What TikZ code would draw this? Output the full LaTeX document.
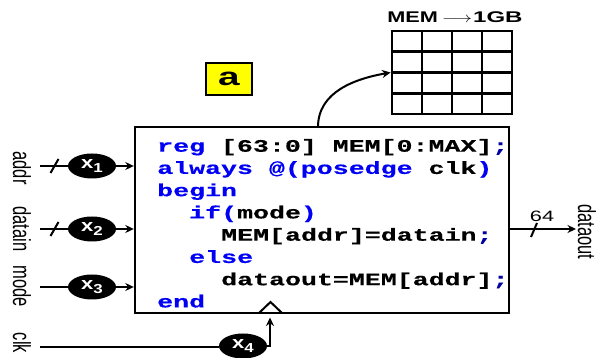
\documentclass[tikz,border=0pt]{standalone}
\usepackage{fontspec}
\setmainfont{Liberation Sans}
\newfontfamily\codefont[FakeStretch=1.52,FakeBold=0.4]{Liberation Mono}
\usetikzlibrary{arrows.meta,shapes.geometric}

\definecolor{kw}{RGB}{0,0,245}
\definecolor{punct}{RGB}{0,0,160}
\definecolor{tagyellow}{RGB}{255,255,0}

\newcommand{\kw}[1]{\textcolor{kw}{#1}}
\newcommand{\pn}[1]{\textcolor{punct}{#1}}
% horizontally widened text
\newcommand{\wide}[2][1.35]{\scalebox{#1}[1]{#2}}
% glyphs thickened across the reading direction (for rotated labels)
\newcommand{\tall}[1]{\scalebox{1}[1.5]{#1}}
\newcommand{\xsub}[1]{\wide[1.3]{x\raisebox{-3.5pt}{\fontsize{13}{13}\selectfont #1}}}

\tikzset{
  wire/.style={line width=2pt},
  arr/.style={line width=2pt, -{Stealth[length=8.5pt,width=8pt]}},
  modbox/.style={draw, line width=2.4pt, rectangle, minimum width=374pt, minimum height=186pt, inner sep=0pt},
  codeline/.style={anchor=base west, inner sep=0pt, font=\codefont\bfseries\fontsize{17.5}{17.5}\selectfont},
  xnode/.style={ellipse, fill=black, minimum width=48pt, minimum height=25pt, inner sep=0pt, text=white,
    font=\bfseries\fontsize{17}{17}\selectfont},
  sig/.style={rotate=-90, inner sep=0pt, font=\fontsize{16.5}{16.5}\selectfont},
  cell/.style={line width=2.8pt},
  tagbox/.style={draw, line width=2pt, fill=tagyellow, minimum width=46pt, minimum height=32pt, inner sep=0pt},
}

\begin{document}
\begin{tikzpicture}[x=1pt,y=-1pt]
  \useasboundingbox (0,0) rectangle (598,358);

  % the always-block
  \node[modbox] (box) at (322,220) {};
  \node[codeline] (l1) at (157,151.7) {\kw{reg} [63:0] MEM[0:MAX]\pn{;}};
  \node[codeline] (l2) at (157,173.9) {\kw{always @(posedge} clk\kw{)}};
  \node[codeline] (l3) at (157,196.2) {\kw{begin}};
  \node[codeline] (l4) at (189,218.4) {\kw{if(}mode\kw{)}};
  \node[codeline] (l5) at (221,240.7) {MEM[addr]=datain\pn{;}};
  \node[codeline] (l6) at (189,262.9) {\kw{else}};
  \node[codeline] (l7) at (221,285.2) {dataout=MEM[addr]\pn{;}};
  \node[codeline] (l8) at (157,307.4) {\kw{end}};

  % clock input marker
  \coordinate (ckl) at (259,313);
  \coordinate (ckt) at (270.5,302);
  \coordinate (ckr) at (282,313);
  \draw[wire] (ckl) -- (ckt) -- (ckr);

  % input buffers
  \node[xnode] (x1) at (92,166) {\xsub{1}};
  \node[xnode] (x2) at (92,229) {\xsub{2}};
  \node[xnode] (x3) at (92,287) {\xsub{3}};
  \node[xnode] (x4) at (243,346) {\xsub{4}};

  \coordinate (in1) at (40,166);
  \coordinate (in2) at (40,229);
  \coordinate (in3) at (40,287);
  \coordinate (clkin) at (40,347.5);
  \coordinate (clkup) at (270,317.5);

  \draw[wire] (in1) -- (x1);
  \draw[wire] (in2) -- (x2);
  \draw[wire] (in3) -- (x3);
  \draw[wire] (clkin) -- (clkin -| x4.west);

  \draw[arr] (x1) -- (x1 -| box.west);
  \draw[arr] (x2) -- (x2 -| box.west);
  \draw[arr] (x3) -- (x3 -| box.west);
  \draw[arr] (x4.east) -| (clkup);

  % bus width ticks
  \draw[wire] (50.5,173) -- (58.5,159);
  \draw[wire] (50.5,236) -- (58.5,222);

  % signal names
  \node[sig] (laddr) at (22,168) {\tall{addr}};
  \node[sig] (ldatain) at (22,229) {\tall{datain}};
  \node[sig] (lmode) at (22,286) {\tall{mode}};
  \node[sig] (lclk) at (22,343) {\tall{clk}};

  % output
  \coordinate (out) at (576,229);
  \draw[arr] (box.east |- out) -- (out);
  \draw[wire] (531,237) -- (537,223);
  \node[inner sep=0pt, font=\fontsize{15}{15}\selectfont] (w64) at (542,216) {\wide[1.45]{64}};
  \node[sig] (ldataout) at (587,232) {\tall{dataout}};

  % memory array
  \node[draw, line width=2.8pt, minimum width=120pt, minimum height=83pt, inner sep=0pt] (mem) at (452,72.5) {};
  \foreach \xx in {422,452,482} \draw[cell] (\xx,31) -- (\xx,114);
  \foreach \yy in {51.75,72.5,93.25} \draw[cell] (392,\yy) -- (512,\yy);
  \node[inner sep=0pt, font=\bfseries\fontsize{15.5}{15.5}\selectfont] (memtitle) at (455,17)
    {\wide[1.4]{MEM}\hspace{4pt}\scalebox{1.3}[1]{$\longrightarrow$}\hspace{1pt}\wide[1.55]{1GB}};

  \coordinate (tap) at (318,127);
  \draw[arr] (tap) to[out=90,in=190] (mem.west);

  % tag
  \node[tagbox, font=\bfseries\fontsize{25}{25}\selectfont] (tag) at (229,79) {\wide[1.55]{a}};
\end{tikzpicture}
\end{document}
